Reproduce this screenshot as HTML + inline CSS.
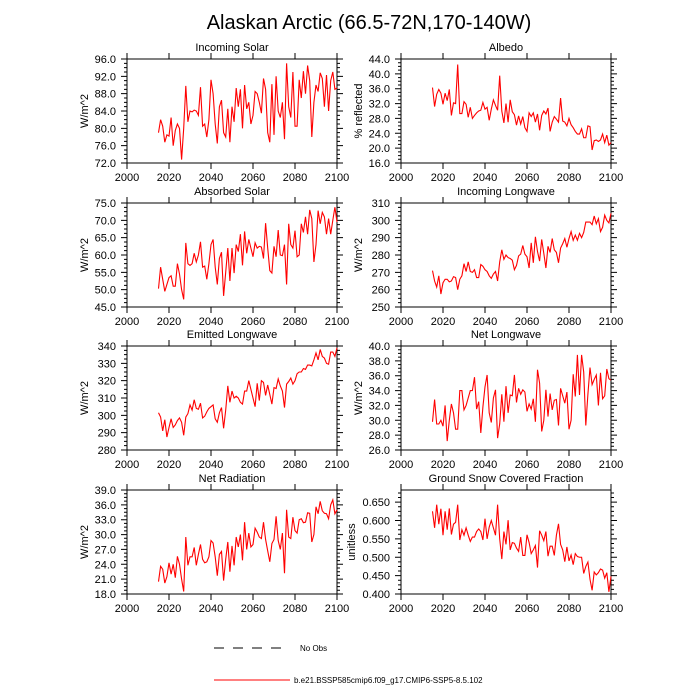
<!DOCTYPE html>
<html><head><meta charset="utf-8"><style>
html,body{margin:0;padding:0;background:#fff;}
svg{display:block;font-family:"Liberation Sans",sans-serif;}
</style></head><body>
<svg id="chart" width="700" height="700" viewBox="0 0 700 700" xmlns="http://www.w3.org/2000/svg">
<text x="369" y="29" font-size="20" text-anchor="middle">Alaskan Arctic (66.5-72N,170-140W)</text>
<g id="panels"></g>
<g>
<line x1="214" y1="648" x2="288" y2="648" stroke="#000" stroke-width="1" stroke-dasharray="10,9"/>
<text x="300" y="651" font-size="8">No Obs</text>
<line x1="214" y1="680" x2="290" y2="680" stroke="#f00" stroke-width="1"/>
<text x="294" y="683" font-size="8">b.e21.BSSP585cmip6.f09_g17.CMIP6-SSP5-8.5.102</text>
</g>
</svg>
<script>
const years = []; for (let y = 2015; y <= 2100; y++) years.push(y);
const xTicks = [2000, 2020, 2040, 2060, 2080, 2100];
const incomingSolar = [79,82,80.5,76.8,78.5,78.2,82.5,76,79.5,81,80,72.8,80,89.8,81.5,84,83.8,84.2,84,83,89.5,80.5,81,78,82,91.2,88,81,76.5,85,86.5,79,78,84.5,76.8,85,81.5,89.3,85,89,80,90,84.5,86,81,83,88.5,88,86,83.5,91.5,89,79,76.8,90.2,78.5,92,84,82.5,86,77.5,95,85,82.5,93,80.5,80.5,91.2,87,93.2,88,94.5,91,78,86,90,88.5,92.8,91.5,85,92.3,84,91,93,89,89.3];
const albedo = [36.3,31.2,34.5,35.8,34.8,31.8,34.8,32.8,35.8,28.8,32.2,32,42.5,29.3,29.3,32.5,31.8,28.3,31,28,28.8,29.5,30,30.2,32.3,30.5,31,27.5,30.5,33,31.5,30.2,39.5,30,26.8,32,27,33,29.8,29,26.2,28.7,26.5,28.5,25.5,24.5,29.5,28.5,29.5,27,29.2,24.8,28.8,30,29.2,30.8,24.5,27,28.5,27.8,27,33.5,27.3,27,26,28,26.3,25.5,24.5,23.8,23.8,25.2,22.8,22.8,26,25.8,19.5,22,22.2,21.8,22.2,23.8,21.5,23.5,20.8,21.5];
const absorbedSolar = [50.3,56.5,53,49.5,51.5,53.5,54,51,51,57.5,54.5,50,47.2,63.5,57.5,57,57.5,60.5,58,60,63.8,56.5,56.8,53,57.5,63,64.5,56.5,51.5,59,60.8,48.2,55,62,52.5,62,54.8,63,61,66,57,66.8,60.5,64.5,62,59.5,63.5,62,62.5,62.3,59,69.2,62,55.5,54.8,62.5,59.5,67.2,60,59.8,63,51.5,69,63,62,67,59.5,60,69,66.5,71,66,73,70.5,58,63,72.8,69,72.3,71,66,70.5,66,70,73.8,69.5];
const incomingLW = [271,265,261.5,268,257.5,264,266,266,264.5,265,267.5,267,260,266,268,275,270.5,276,270.5,270,271.5,267,267,274.5,273.5,271.5,270.5,268,266.5,269,270.5,265,276,283,277.5,280,278.5,278,277,271.5,274,279.5,280.5,285.5,280.5,279,272.5,287,275.5,290.5,282,276.5,289,281,272.5,285,281.5,289.5,283,281.5,275.5,284,286.5,289.5,284.5,289.5,293.5,288.5,291.5,288.5,292.5,290,293,299,299,299,297.5,302.5,298,301,293.5,296,303,300,298.5,304];
const emittedLW = [301.5,299,291,297.5,287.5,293,298,293,294.5,297,298.5,296,288.5,299,301,306,303,309,304,303.5,307,298.5,299.5,302,304,305,306,298,296,301.5,304.5,292.5,303,317,307.5,314,310,311,310,307.5,306.5,314,314,320,315,310,305,318.5,308.5,320,319,311.5,317.5,312,306.5,316,315.5,321,317,314,304.5,318,319.5,321.5,318,320,324,325,325,327,326.5,329,329,328.5,332,336,332,338,334,333,330,329.5,336.5,336.5,334,339];
const netLW = [29.8,32.8,29.5,29.5,30,29.2,32,27.2,30,32.2,31,28.8,28.8,34,34,31.4,32,33,34,34,35.8,31.5,32.5,28.3,31.8,34.5,36.1,31,29.7,33,34.1,27.6,29.5,33.5,29.8,34.6,31,33.4,33.3,36.1,32.4,34.3,33.5,34.1,33.8,31.2,32.2,31.5,32.9,29.8,36.8,35,28.5,30,34.1,30.5,33.6,31.4,32.7,32.8,29.3,34.3,33.3,32.3,33.8,28.8,30,36.2,33.2,38.8,33.4,38.8,36.5,29.3,33.5,37.1,34.8,35.5,36.1,32,36.4,32.9,33.3,36.9,35.6,35.4];
const netRadiation = [20.5,23.6,23,20.2,21.5,24.3,22,24,21.3,25.6,24,21,18.5,29.5,23.8,25.5,25.5,27.4,23.8,26,28,25,24.3,24.5,25.5,28.8,28.3,25.5,21.7,26,26.6,20.7,25,28.5,22.5,27.7,23.8,29.5,27.5,30,24.8,32.5,27,30.3,27.5,28,31.3,30.5,29.5,29.2,32.5,29,26.7,24.5,28.2,29,33.7,28.8,27,30.3,22.2,35,29.5,29.2,33.5,30.8,30.3,33,33.2,32.4,32.5,34.4,34.3,28.5,30,35.6,34.2,36.7,34.8,34.3,34.2,33.2,36,37,34.2,35];
const snowFraction = [.625,.58,.643,.59,.632,.56,.625,.575,.633,.562,.59,.595,.643,.547,.575,.56,.58,.56,.543,.555,.555,.57,.577,.57,.547,.605,.55,.582,.6,.58,.56,.643,.55,.495,.57,.535,.601,.52,.54,.538,.525,.516,.555,.505,.505,.561,.54,.51,.52,.532,.472,.572,.56,.545,.57,.503,.53,.53,.505,.56,.591,.535,.52,.488,.528,.49,.506,.48,.51,.502,.5,.5,.456,.475,.487,.44,.41,.46,.452,.458,.468,.465,.443,.458,.406,.448];
const ticksIncomingSolar = [72,76,80,84,88,92,96];
const ticksAlbedo = [16,20,24,28,32,36,40,44];
const ticksAbsorbed = [45,50,55,60,65,70,75];
const ticksIncomingLW = [250,260,270,280,290,300,310];
const ticksEmittedLW = [280,290,300,310,320,330,340];
const ticksNetLW = [26,28,30,32,34,36,38,40];
const ticksNetRad = [18,21,24,27,30,33,36,39];
const ticksSnow = [0.4,0.45,0.5,0.55,0.6,0.65];

const panels = [
 {name:'incoming-solar',title:'Incoming Solar',yt:'W/m^2',vals:incomingSolar,ticks:ticksIncomingSolar,ymin:72,ymax:96,dec:1,x0:127,y0:59,ytx:39},
 {name:'albedo',title:'Albedo',yt:'% reflected',vals:albedo,ticks:ticksAlbedo,ymin:16,ymax:44,dec:1,x0:401,y0:59,ytx:39},
 {name:'absorbed-solar',title:'Absorbed Solar',yt:'W/m^2',vals:absorbedSolar,ticks:ticksAbsorbed,ymin:45,ymax:75,dec:1,x0:127,y0:203,ytx:39},
 {name:'incoming-longwave',title:'Incoming Longwave',yt:'W/m^2',vals:incomingLW,ticks:ticksIncomingLW,ymin:250,ymax:310,dec:0,x0:401,y0:203,ytx:39},
 {name:'emitted-longwave',title:'Emitted Longwave',yt:'W/m^2',vals:emittedLW,ticks:ticksEmittedLW,ymin:280,ymax:340,dec:0,x0:127,y0:346,ytx:39},
 {name:'net-longwave',title:'Net Longwave',yt:'W/m^2',vals:netLW,ticks:ticksNetLW,ymin:26,ymax:40,dec:1,x0:401,y0:346,ytx:39},
 {name:'net-radiation',title:'Net Radiation',yt:'W/m^2',vals:netRadiation,ticks:ticksNetRad,ymin:18,ymax:39,dec:1,x0:127,y0:490,ytx:39},
 {name:'snow-fraction',title:'Ground Snow Covered Fraction',yt:'unitless',vals:snowFraction,ticks:ticksSnow,ymin:0.4,ymax:0.683,dec:3,x0:401,y0:490,ytx:46}
];
const W = 210, H = 104, NS = 'http://www.w3.org/2000/svg';
const root = document.getElementById('panels');
function mk(tag, attrs, parent, text){
  const e = document.createElementNS(NS, tag);
  for (const k in attrs) e.setAttribute(k, attrs[k]);
  if (text !== undefined) e.textContent = text;
  parent.appendChild(e); return e;
}
panels.forEach(p => {
  const g = mk('g', {}, root);
  
  
  const xs = v => p.x0 + (v - 2000) / 100 * W;
  const ys = v => p.y0 + H - (v - p.ymin) / (p.ymax - p.ymin) * H;
  const t = mk('text', {x: p.x0 + W/2, y: p.y0 - 8, 'font-size': 11, 'text-anchor': 'middle'}, g, p.title);
  
  
  const yl = mk('text', {x: 0, y: 0, 'font-size': 11, 'text-anchor': 'middle', transform: `translate(${p.x0 - p.ytx},${p.y0 + H/2}) rotate(-90)`}, g, p.yt);
  
  
  let d = '';
  xTicks.forEach(v => {
    const x = xs(v);
    d += `M${x},${p.y0+H}v6M${x},${p.y0}v-6`;
    const lab = mk('text', {x: x, y: p.y0 + H + 18, 'font-size': 11, 'text-anchor': 'middle'}, g, String(v));
    
    
  });
  p.ticks.forEach((v, i) => {
    const y = ys(v);
    d += `M${p.x0},${y}h-6M${p.x0+W},${y}h6`;
    const lab = mk('text', {x: p.x0 - 11, y: y + 4, 'font-size': 11, 'text-anchor': 'end'}, g, v.toFixed(p.dec));
    
    
    const step = (i < p.ticks.length - 1) ? p.ticks[i+1] - v : p.ticks[1] - p.ticks[0];
    for (let m = 1; m < 4; m++) { const vm = v + m*step/4; if (vm <= p.ymax + 1e-9) { const ym = ys(vm); d += `M${p.x0},${ym}h-3M${p.x0+W},${ym}h3`; } }
  });
  const tk = mk('path', {d: d, stroke: '#000', 'stroke-width': 1, fill: 'none'}, g);
  
  
  const fr = mk('rect', {x: p.x0, y: p.y0, width: W, height: H, fill: 'none', stroke: '#000', 'stroke-width': 1}, g);
  
  
  const pts = p.vals.map((v, i) => `${xs(years[i]).toFixed(2)},${ys(v).toFixed(2)}`).join(' ');
  const ln = mk('polyline', {points: pts, fill: 'none', stroke: '#f00', 'stroke-width': 1.1}, g);
  
  
});
</script>
</body></html>
